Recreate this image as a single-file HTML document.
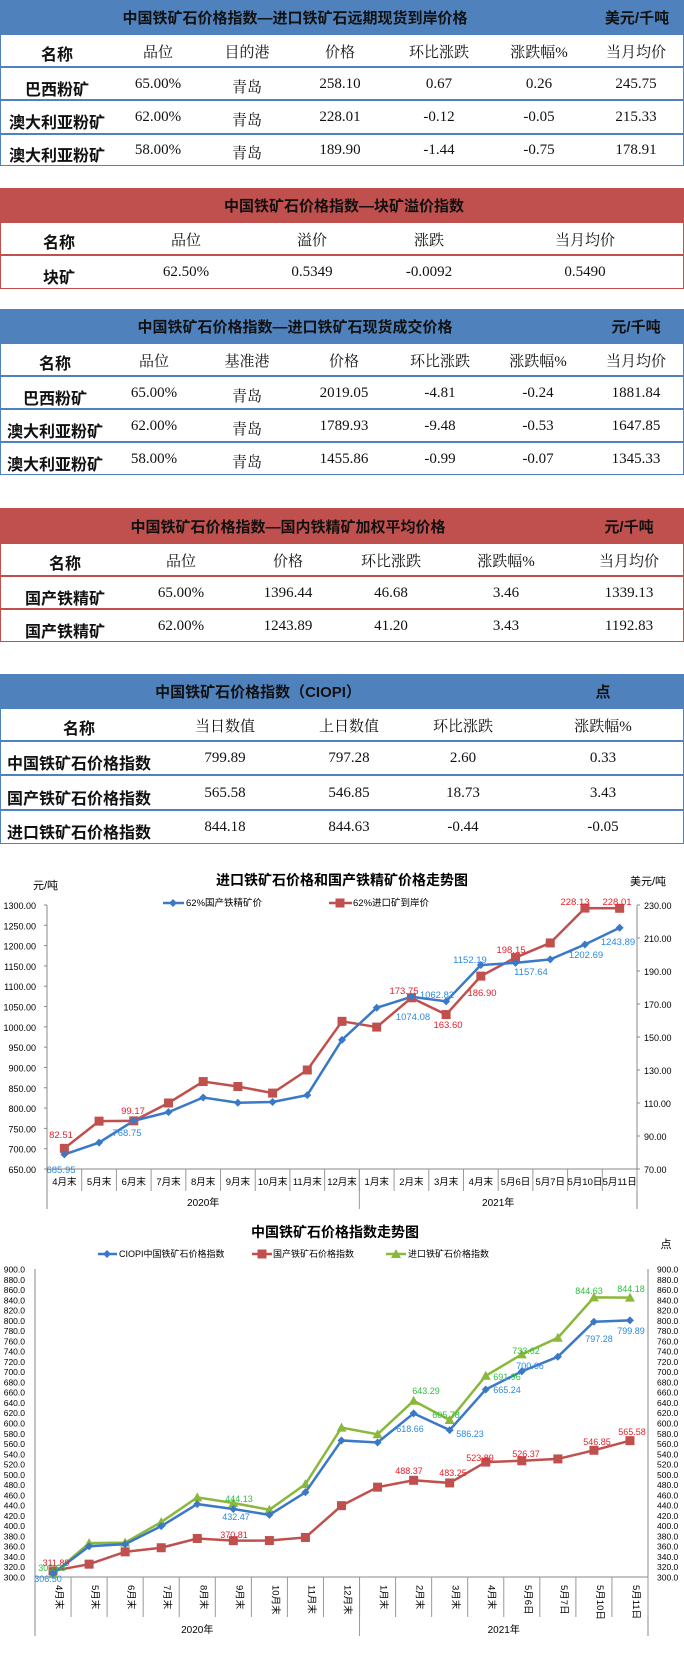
<!DOCTYPE html>
<html><head><meta charset="utf-8"><style>
body{margin:0;width:684px;height:1656px;background:#fff;position:relative;overflow:hidden;font-family:"Liberation Serif","Noto Serif CJK SC","Noto Sans CJK SC",serif;}
.t{position:absolute;left:0;width:682px;border:1px solid}
.hd{position:absolute;left:0;width:684px;color:#fff;font-weight:bold;font-size:15px;font-family:"Liberation Sans","Noto Sans CJK SC",sans-serif}
.c{position:absolute;transform:translateX(-50%);white-space:nowrap;font-size:15px;color:#111}
.b{font-weight:bold;font-family:"Liberation Sans","Noto Sans CJK SC",sans-serif;font-size:16px}
.line{position:absolute;left:0;width:684px;height:2px}
svg text{font-family:"Liberation Sans","Noto Sans CJK SC",sans-serif}
</style></head><body>
<div id="root"></div>
<svg id="c1" width="684" height="380" style="position:absolute;left:0;top:840px"></svg>
<svg id="c2" width="684" height="446" style="position:absolute;left:0;top:1210px"></svg>
<script>
var root=document.getElementById('root');
function el(h){root.insertAdjacentHTML('beforeend',h);}
function table(o){
 var col=o.color;
 el('<div class="hd" style="top:'+o.top+'px;height:'+(o.hh)+'px;background:'+col+'"></div>');
 el('<div class="hd c" style="background:none;width:auto;top:'+(o.top+o.hh/2-10)+'px;left:'+o.tx+'px">'+o.title+'</div>');
 if(o.unit)el('<div class="hd c" style="background:none;width:auto;top:'+(o.top+o.hh/2-10)+'px;left:'+o.ux+'px">'+o.unit+'</div>');
 var y=o.top+o.hh;
 var bottom=o.rows[o.rows.length-1];
 el('<div class="t" style="top:'+y+'px;height:'+(bottom-y-2)+'px;border-color:'+col+'"></div>');
 var prev=y;
 o.rows.forEach(function(ry,i){
  var r=o.data[i];
  r.forEach(function(txt,j){
   var bold=(j==0);
   el('<div class="c'+(bold?' b':'')+'" style="left:'+o.xs[j]+'px;top:'+((prev+ry)/2-10+(i>0?2:0))+'px">'+txt+'</div>');
  });
  if(i<o.rows.length-1)el('<div class="line" style="top:'+(ry-1)+'px;background:'+col+'"></div>');
  prev=ry;
 });
}
var B='#4f81bd',R='#c0504d';
table({color:B,top:0,hh:34,title:'中国铁矿石价格指数—进口铁矿石远期现货到岸价格',tx:295,unit:'美元/千吨',ux:637,
 xs:[57,158,247,340,439,539,636],rows:[67,100,134,166],
 data:[['名称','品位','目的港','价格','环比涨跌','涨跌幅%','当月均价'],['巴西粉矿','65.00%','青岛','258.10','0.67','0.26','245.75'],['澳大利亚粉矿','62.00%','青岛','228.01','-0.12','-0.05','215.33'],['澳大利亚粉矿','58.00%','青岛','189.90','-1.44','-0.75','178.91']]});
table({color:R,top:188,hh:34,title:'中国铁矿石价格指数—块矿溢价指数',tx:344,
 xs:[59,186,312,429,585],rows:[255,289],
 data:[['名称','品位','溢价','涨跌','当月均价'],['块矿','62.50%','0.5349','-0.0092','0.5490']]});
table({color:B,top:309,hh:34,title:'中国铁矿石价格指数—进口铁矿石现货成交价格',tx:295,unit:'元/千吨',ux:636,
 xs:[55,154,247,344,440,538,636],rows:[376,409,442,475],
 data:[['名称','品位','基准港','价格','环比涨跌','涨跌幅%','当月均价'],['巴西粉矿','65.00%','青岛','2019.05','-4.81','-0.24','1881.84'],['澳大利亚粉矿','62.00%','青岛','1789.93','-9.48','-0.53','1647.85'],['澳大利亚粉矿','58.00%','青岛','1455.86','-0.99','-0.07','1345.33']]});
table({color:R,top:508,hh:35,title:'中国铁矿石价格指数—国内铁精矿加权平均价格',tx:288,unit:'元/千吨',ux:629,
 xs:[65,181,288,391,506,629],rows:[576,609,642],
 data:[['名称','品位','价格','环比涨跌','涨跌幅%','当月均价'],['国产铁精矿','65.00%','1396.44','46.68','3.46','1339.13'],['国产铁精矿','62.00%','1243.89','41.20','3.43','1192.83']]});
table({color:B,top:674,hh:34,title:'中国铁矿石价格指数（CIOPI）',tx:258,unit:'点',ux:603,
 xs:[79,225,349,463,603],rows:[741,775,810,844],
 data:[['名称','当日数值','上日数值','环比涨跌','涨跌幅%'],['中国铁矿石价格指数','799.89','797.28','2.60','0.33'],['国产铁矿石价格指数','565.58','546.85','18.73','3.43'],['进口铁矿石价格指数','844.18','844.63','-0.44','-0.05']]});

function S(id,h){document.getElementById(id).insertAdjacentHTML('beforeend',h);}
function T(id,x,y,t,o){S(id,'<text x="'+x+'" y="'+y+'" '+(o||'')+'>'+t+'</text>');}
function marker(id,x,y,col,type){
 if(type=='d')S(id,'<polygon points="'+x+','+(y-4)+' '+(x+4)+','+y+' '+x+','+(y+4)+' '+(x-4)+','+y+'" fill="'+col+'"/>');
 else if(type=='s')S(id,'<rect x="'+(x-4.5)+'" y="'+(y-4.5)+'" width="9" height="9" fill="'+col+'"/>');
 else S(id,'<polygon points="'+x+','+(y-5)+' '+(x+5)+','+(y+4)+' '+(x-5)+','+(y+4)+'" fill="'+col+'"/>');
}
// chart 1 (local coords, top=840)
(function(){
 var id='c1',L=47,Rr=637,top=65,bot=329,n=17,w=(Rr-L)/n;
 T(id,342,45,'进口铁矿石价格和国产铁精矿价格走势图','font-size:14px;font-weight:bold;text-anchor=middle" text-anchor="middle" font-size="14" font-weight="bold"');
 T(id,33,49,'元/吨','font-size="11"');T(id,630,45,'美元/吨','font-size="11"');
 S(id,'<line x1="'+L+'" y1="'+top+'" x2="'+L+'" y2="'+(bot+40)+'" stroke="#888"/><line x1="'+Rr+'" y1="'+top+'" x2="'+Rr+'" y2="'+(bot+40)+'" stroke="#888"/><line x1="'+L+'" y1="'+bot+'" x2="'+Rr+'" y2="'+bot+'" stroke="#888"/>');
 for(var i=0;i<=13;i++){var v=650+i*50,y=bot-(v-650)/650*(bot-top);T(id,36,y+4,v.toFixed(2),'font-size="9" text-anchor="end"');S(id,'<line x1="'+(L-3)+'" y1="'+y+'" x2="'+L+'" y2="'+y+'" stroke="#888"/>');}
 for(var i=0;i<=8;i++){var v=70+i*20,y=bot-(v-70)/160*(bot-top);T(id,644,y+4,v.toFixed(2),'font-size="9"');S(id,'<line x1="'+Rr+'" y1="'+y+'" x2="'+(Rr+3)+'" y2="'+y+'" stroke="#888"/>');}
 var cats=['4月末','5月末','6月末','7月末','8月末','9月末','10月末','11月末','12月末','1月末','2月末','3月末','4月末','5月6日','5月7日','5月10日','5月11日'];
 cats.forEach(function(c,i){var x=L+w*(i+.5);T(id,x,345,c,'font-size="9.5" text-anchor="middle"');S(id,'<line x1="'+(L+w*(i+1))+'" y1="'+bot+'" x2="'+(L+w*(i+1))+'" y2="'+(bot+22)+'" stroke="#999"/>');});
 S(id,'<line x1="'+(L+w*9)+'" y1="'+bot+'" x2="'+(L+w*9)+'" y2="'+(bot+40)+'" stroke="#999"/>');
 T(id,L+w*4.5,366,'2020年','font-size="10" text-anchor="middle"');T(id,L+w*13,366,'2021年','font-size="10" text-anchor="middle"');
 var bl=[685.95,715,768.75,790,826,813,815,832,968,1047,1074.08,1062.82,1152.19,1157.64,1166,1202.69,1243.89];
 var rd=[82.51,99,99.17,110,123,120,116,130,159.5,156,173.75,163.6,186.9,198.15,207,228.13,228.01];
 function yb(v){return bot-(v-650)/650*(bot-top);} function yr(v){return bot-(v-70)/160*(bot-top);}
 var pb=bl.map(function(v,i){return [L+w*(i+.5),yb(v)];}),pr=rd.map(function(v,i){return [L+w*(i+.5),yr(v)];});
 S(id,'<polyline points="'+pr.join(' ')+'" fill="none" stroke="'+R+'" stroke-width="2.5"/>');
 S(id,'<polyline points="'+pb.join(' ')+'" fill="none" stroke="#3a78c8" stroke-width="2.5"/>');
 pr.forEach(function(p){marker(id,p[0],p[1],R,'s');});pb.forEach(function(p){marker(id,p[0],p[1],'#3a78c8','d');});
 S(id,'<line x1="163" y1="63" x2="184" y2="63" stroke="#3a78c8" stroke-width="2.5"/>');marker(id,173,63,'#3a78c8','d');T(id,186,66,'62%国产铁精矿价','font-size="9.5"');
 S(id,'<line x1="329" y1="63" x2="352" y2="63" stroke="'+R+'" stroke-width="2.5"/>');marker(id,340,63,R,'s');T(id,353,66,'62%进口矿到岸价','font-size="9.5"');
 var lb=[[61,333,'685.95','#2a8ae0'],[127,296,'768.75','#2a8ae0'],[413,180,'1074.08','#2a8ae0'],[437,158,'1062.82','#2a8ae0'],[470,123,'1152.19','#2a8ae0'],[531,135,'1157.64','#2a8ae0'],[586,118,'1202.69','#2a8ae0'],[618,105,'1243.89','#2a8ae0'],
 [61,298,'82.51','#e8202a'],[133,274,'99.17','#e8202a'],[404,154,'173.75','#e8202a'],[448,188,'163.60','#e8202a'],[482,156,'186.90','#e8202a'],[511,113,'198.15','#e8202a'],[575,65,'228.13','#e8202a'],[617,65,'228.01','#e8202a']];
 lb.forEach(function(a){T(id,a[0],a[1],a[2],'font-size="9.5" text-anchor="middle" fill="'+a[3]+'"');});
})();
// chart 2 (local coords, top=1210)
(function(){
 var id='c2',L=35,Rr=648,top=59,bot=367,n=17,w=(Rr-L)/n;
 T(id,335,27,'中国铁矿石价格指数走势图','text-anchor="middle" font-size="14" font-weight="bold"');
 T(id,666,38,'点','font-size="11" text-anchor="middle"');
 S(id,'<line x1="'+L+'" y1="'+top+'" x2="'+L+'" y2="'+(bot+59)+'" stroke="#888"/><line x1="'+Rr+'" y1="'+top+'" x2="'+Rr+'" y2="'+(bot+59)+'" stroke="#888"/><line x1="'+L+'" y1="'+bot+'" x2="'+Rr+'" y2="'+bot+'" stroke="#888"/>');
 for(var i=0;i<=30;i++){var v=300+i*20,y=bot-(v-300)/600*(bot-top);T(id,25,y+3.5,v.toFixed(1),'font-size="8.5" text-anchor="end"');T(id,657,y+3.5,v.toFixed(1),'font-size="8.5"');}
 var cats=['4月末','5月末','6月末','7月末','8月末','9月末','10月末','11月末','12月末','1月末','2月末','3月末','4月末','5月6日','5月7日','5月10日','5月11日'];
 cats.forEach(function(c,i){var x=L+w*(i+.5);S(id,'<text transform="translate('+(x+3)+','+(bot+8)+') rotate(90)" font-size="9.5">'+c+'</text>');S(id,'<line x1="'+(L+w*(i+1))+'" y1="'+bot+'" x2="'+(L+w*(i+1))+'" y2="'+(bot+40)+'" stroke="#999"/>');});
 S(id,'<line x1="'+(L+w*9)+'" y1="'+bot+'" x2="'+(L+w*9)+'" y2="'+(bot+59)+'" stroke="#999"/>');
 T(id,L+w*4.5,423,'2020年','font-size="10" text-anchor="middle"');T(id,L+w*13,423,'2021年','font-size="10" text-anchor="middle"');
 function yy(v){return bot-(v-300)/600*(bot-top);}
 var G='#8ab83a',BL='#3a78c8';
 var sb=[306.5,360,364,399,442,432.47,421,465,566,562,618.66,586.23,665.24,700.66,729,797.28,799.89];
 var sr=[311.89,325,349,357,375,370.81,371,377,439,475,488.37,483.25,523.89,526.37,530,546.85,565.58];
 var sg=[305.68,366,367,407,455,444.13,431,481,591,578,643.29,605.78,691.96,733.62,766,844.63,844.18];
 [[sr,R,'s'],[sg,G,'t'],[sb,BL,'d']].forEach(function(s){var p=s[0].map(function(v,i){return [L+w*(i+.5),yy(v)];});
  S(id,'<polyline points="'+p.join(' ')+'" fill="none" stroke="'+s[1]+'" stroke-width="2.5"/>');p.forEach(function(q){marker(id,q[0],q[1],s[1],s[2]);});});
 S(id,'<line x1="98" y1="44" x2="117" y2="44" stroke="'+BL+'" stroke-width="2.5"/>');marker(id,107,44,BL,'d');T(id,119,47,'CIOPI中国铁矿石价格指数','font-size="9"');
 S(id,'<line x1="252" y1="44" x2="272" y2="44" stroke="'+R+'" stroke-width="2.5"/>');marker(id,262,44,R,'s');T(id,273,47,'国产铁矿石价格指数','font-size="9"');
 S(id,'<line x1="386" y1="44" x2="406" y2="44" stroke="'+G+'" stroke-width="2.5"/>');marker(id,396,44,G,'t');T(id,408,47,'进口铁矿石价格指数','font-size="9"');
 var lb=[[48,372,'306.50','#2a8ae0'],[236,310,'432.47','#2a8ae0'],[410,222,'618.66','#2a8ae0'],[470,227,'586.23','#2a8ae0'],[507,183,'665.24','#2a8ae0'],[530,159,'700.66','#2a8ae0'],[599,132,'797.28','#2a8ae0'],[631,124,'799.89','#2a8ae0'],
 [56,356,'311.89','#e8202a'],[234,328,'370.81','#e8202a'],[409,264,'488.37','#e8202a'],[453,266,'483.25','#e8202a'],[480,251,'523.89','#e8202a'],[526,247,'526.37','#e8202a'],[597,235,'546.85','#e8202a'],[632,225,'565.58','#e8202a'],
 [52,361,'305.68','#30c040'],[239,292,'444.13','#30c040'],[426,184,'643.29','#30c040'],[446,208,'605.78','#30c040'],[507,170,'691.96','#30c040'],[526,144,'733.62','#30c040'],[589,84,'844.63','#30c040'],[631,82,'844.18','#30c040']];
 lb.forEach(function(a){T(id,a[0],a[1],a[2],'font-size="9" text-anchor="middle" fill="'+a[3]+'"');});
})();
</script>
</body></html>
